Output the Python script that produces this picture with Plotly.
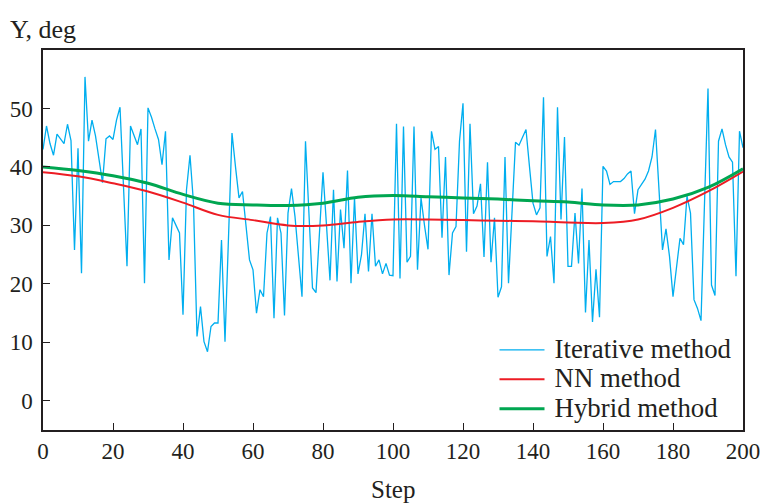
import plotly.graph_objects as go

# ---------------- data ----------------
steps = list(range(0, 201))

iterative = [
    43, 47, 44, 42, 45.6, 44.8, 44, 47.3, 44.5, 25.8,          # 0-9
    43.2, 21.8, 55.4, 44.4, 48, 45.3, 41, 37.3, 44.8, 45.3,     # 10-19
    44.7, 48, 50.2, 37, 23, 47, 45.4, 43.8, 46.5, 20.1,         # 20-29
    50.1, 48.5, 46.5, 44.7, 40.4, 46.1, 24.1, 31.3, 30, 28.7,   # 30-39
    14.7, 36.1, 42, 33.8, 11, 16.1, 10.1, 8.4, 12.7, 13.3,      # 40-49
    13.3, 27.5, 10.1, 28, 45.8, 40, 34.7, 35.8, 30, 24.1,       # 50-59
    22.4, 15, 19, 17.8, 28.7, 31.5, 14.1, 31.3, 28.7, 14.6,     # 60-69
    32.1, 36.3, 31.5, 25, 17.8, 44.4, 31, 19.3, 18.5, 30,       # 70-79
    39.1, 30, 20.6, 36.1, 20.4, 32.7, 26.1, 39.4, 20.1, 34.7,   # 80-89
    21.7, 25, 32, 22.1, 32, 23, 24.1, 21.7, 23.5, 21.5,         # 90-99
    21.4, 47.4, 20.9, 46.9, 23.7, 24.7, 46.9, 22.4, 34.7, 30,   # 100-109
    25.9, 46.1, 43, 43.5, 27.9, 41.7, 21.5, 28.7, 29.8, 44.4,   # 110-119
    50.9, 25.5, 47.4, 32, 33.3, 37.1, 24.6, 40.8, 23.7, 31.3,   # 120-129
    17.7, 19.5, 41.7, 20.1, 32.1, 44.2, 43.7, 45, 46.4, 40,     # 130-139
    33.8, 31.8, 33, 51.9, 24.7, 28.1, 20.1, 50.2, 31, 45.1,     # 140-149
    23, 23, 32.1, 23.5, 36.3, 15.1, 27.5, 13.5, 22.5, 14.3,     # 150-159
    40.1, 39.3, 37, 37.5, 37.5, 37.5, 38, 38.8, 39.3, 32,       # 160-169
    36.1, 37, 37.9, 39.3, 41.7, 46.4, 36, 25.8, 29.4, 24.7,     # 170-179
    17.8, 22.8, 27.8, 26.7, 35, 32.1, 17.3, 15.8, 13.7, 33.8,   # 180-189
    53.4, 19.8, 18, 44.4, 46.5, 43.8, 41.7, 40.8, 21.3, 46.1,   # 190-199
    43.3,                                                       # 200
]

smooth_steps = [0, 10, 20, 30, 40, 50, 60, 70, 80, 90, 100,
                110, 120, 130, 140, 150, 160, 170, 180, 190, 200]
nn_method = [39.1, 38.4, 37.2, 35.8, 33.9, 31.8, 30.9, 30.0, 30.0, 30.6, 31.0,
             31.0, 30.9, 30.8, 30.7, 30.5, 30.4, 31.0, 33.0, 35.8, 39.2]
hybrid_method = [40.0, 39.4, 38.5, 37.2, 35.3, 33.8, 33.5, 33.4, 33.8, 34.8, 35.1,
                 34.9, 34.7, 34.5, 34.2, 34.0, 33.5, 33.5, 34.5, 36.5, 39.7]

series_names = ["Iterative method", "NN method", "Hybrid method"]
x_ticks = [0, 20, 40, 60, 80, 100, 120, 140, 160, 180, 200]
y_ticks = [0, 10, 20, 30, 40, 50]

# ---------------- figure ----------------
FONT = "Liberation Serif, Times New Roman, serif"
AX = "#231f20"


def legend_label(name):
    return "&nbsp;<span style='font-size:26.8px'>" + name + "</span>"


fig = go.Figure()
fig.add_trace(go.Scatter(x=steps, y=iterative, mode="lines", name=legend_label(series_names[0]),
                         line=dict(color="#00aeef", width=1.3)))
fig.add_trace(go.Scatter(x=smooth_steps, y=nn_method, mode="lines", name=legend_label(series_names[1]),
                         line=dict(color="#ed1c24", width=2, shape="spline", smoothing=1.0)))
fig.add_trace(go.Scatter(x=smooth_steps, y=hybrid_method, mode="lines", name=legend_label(series_names[2]),
                         line=dict(color="#00a651", width=3, shape="spline", smoothing=1.0)))

axis_common = dict(showgrid=False, zeroline=False, showline=True, linecolor=AX, linewidth=1.5,
                   mirror=True, ticks="inside", ticklen=7, tickwidth=1.2, tickcolor=AX,
                   automargin=False,
                   tickfont=dict(family=FONT, size=23, color=AX))

fig.update_layout(
    width=766, height=503,
    margin=dict(l=43.3, r=22.7, t=50, b=73),
    paper_bgcolor="white", plot_bgcolor="white",
    font=dict(family=FONT, color=AX),
    xaxis=dict(range=[0, 200], tickvals=x_ticks, **axis_common),
    yaxis=dict(range=[-5, 60], tickvals=y_ticks, ticklabelstandoff=4, **axis_common),
    legend=dict(x=0.645, y=0.263, xanchor="left", yanchor="top",
                bgcolor="rgba(0,0,0,0)", font=dict(family=FONT, size=20.4, color=AX),
                itemwidth=45, tracegroupgap=0),
    showlegend=True,
)

fig.add_annotation(text="Y, deg", xref="paper", yref="paper", x=-0.05, y=1.0,
                   xanchor="left", yanchor="bottom", yshift=4, showarrow=False,
                   font=dict(family=FONT, size=26, color=AX))
fig.add_annotation(text="Step", xref="paper", yref="paper", x=0.5, y=0,
                   xanchor="center", yanchor="top", yshift=-44, showarrow=False,
                   font=dict(family=FONT, size=25, color=AX))

fig.write_html("out.html", config={"displayModeBar": False},
               post_script="document.body.style.margin='0';document.body.style.padding='0';")
